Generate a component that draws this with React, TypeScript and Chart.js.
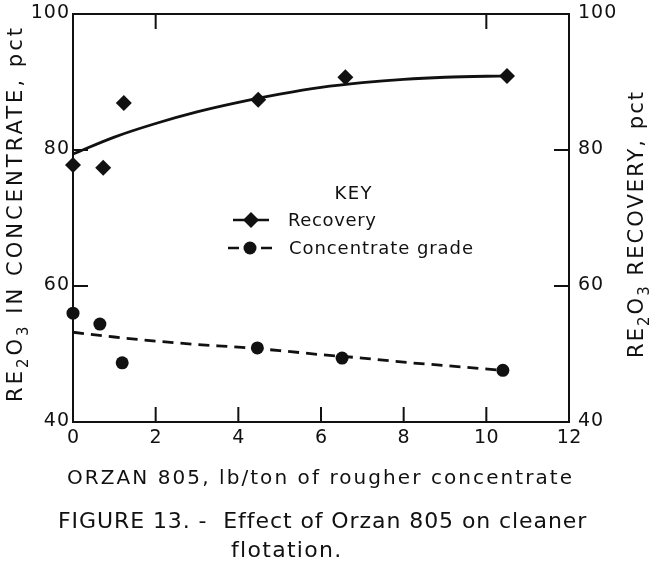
import React, { useEffect, useRef } from "react";
import { Chart, registerables } from "chart.js";

Chart.register(...registerables);

// ---- data ----
const recoveryX = [0, 0.73, 1.23, 4.48, 6.59, 10.5];
const recoveryY = [77.8, 77.4, 86.9, 87.4, 90.7, 90.9];
const gradeX = [0, 0.65, 1.19, 4.46, 6.51, 10.4];
const gradeY = [56.0, 54.4, 48.7, 50.9, 49.4, 47.6];
const recoveryCurveX = [0, 1, 2, 3, 4, 5, 6, 7, 8, 9, 10.5];
const recoveryCurveY = [79.4, 81.9, 83.9, 85.6, 87.0, 88.2, 89.2, 89.9, 90.4, 90.7, 90.9];
const gradeCurveX = [0, 1, 2, 3, 4, 5, 6, 7, 8, 9, 10.4];
const gradeCurveY = [53.2, 52.5, 51.9, 51.4, 51.0, 50.5, 49.9, 49.4, 48.8, 48.3, 47.6];
const xTickLabels = [0, 2, 4, 6, 8, 10, 12];
const yTickLabels = [40, 60, 80, 100];
const innerXTicksBottom = [2, 4, 6, 8, 10];
const innerXTicksTop = [2, 10];
const innerYTicks = [60, 80];

const xTitle = "ORZAN 805, lb/ton of rougher concentrate";
const caption1 = "FIGURE 13. -  Effect of Orzan 805 on cleaner";
const caption2 = "flotation.";
const leftTitleRuns = [
  { t: "RE" }, { t: "2", sub: true }, { t: "O" }, { t: "3", sub: true }, { t: " IN CONCENTRATE, pct" },
];
const rightTitleRuns = [
  { t: "RE" }, { t: "2", sub: true }, { t: "O" }, { t: "3", sub: true }, { t: " RECOVERY, pct" },
];
const legendTitle = "KEY";
const legendRecovery = "Recovery";
const legendGrade = "Concentrate grade";

const FAM = '"DejaVu Sans", sans-serif';
const INK = "#111";

function fitSpacing(ctx: CanvasRenderingContext2D, text: string, font: string, target: number) {
  ctx.font = font;
  ctx.letterSpacing = "0px";
  const w = ctx.measureText(text).width;
  return (target - w) / Math.max(1, text.length - 1);
}

function drawSpaced(
  ctx: CanvasRenderingContext2D, text: string, x: number, y: number, font: string, sp: number, align: string
) {
  ctx.font = font;
  ctx.letterSpacing = "0px";
  const w = ctx.measureText(text).width + sp * (text.length - 1);
  let sx = x;
  if (align === "center") sx = x - w / 2;
  else if (align === "right") sx = x - w;
  ctx.letterSpacing = sp + "px";
  ctx.textAlign = "left";
  ctx.fillText(text, sx, y);
  ctx.letterSpacing = "0px";
}

function drawRuns(ctx: CanvasRenderingContext2D, runs: any[], size: number, target: number) {
  const main = `${size}px ${FAM}`;
  const sub = `${Math.round(size * 0.7)}px ${FAM}`;
  ctx.letterSpacing = "0px";
  let sum = 0;
  let n = 0;
  for (const r of runs) {
    ctx.font = r.sub ? sub : main;
    sum += ctx.measureText(r.t).width;
    n += r.t.length;
  }
  const sp = (target - sum) / (n - 1);
  let x = -target / 2;
  ctx.textAlign = "left";
  ctx.textBaseline = "alphabetic";
  for (const r of runs) {
    ctx.font = r.sub ? sub : main;
    ctx.letterSpacing = sp + "px";
    ctx.fillText(r.t, x, r.sub ? size * 0.28 : 0);
    ctx.letterSpacing = "0px";
    x += ctx.measureText(r.t).width + sp * r.t.length;
  }
}

function diamond(ctx: CanvasRenderingContext2D, x: number, y: number, r: number) {
  ctx.beginPath();
  ctx.moveTo(x, y - r);
  ctx.lineTo(x + r, y);
  ctx.lineTo(x, y + r);
  ctx.lineTo(x - r, y);
  ctx.closePath();
  ctx.fill();
}

const decorPlugin = {
  id: "decor",
  beforeDraw(chart: any) {
    const ctx = chart.ctx;
    ctx.save();
    ctx.fillStyle = "#fff";
    ctx.fillRect(0, 0, chart.width, chart.height);
    ctx.restore();
  },
  afterDraw(chart: any) {
    const ctx: CanvasRenderingContext2D = chart.ctx;
    const { left, right, top, bottom } = chart.chartArea;
    const xs = chart.scales.x;
    const ys = chart.scales.y;
    const ys2 = chart.scales.y2;
    ctx.save();
    ctx.strokeStyle = INK;
    ctx.fillStyle = INK;
    ctx.lineWidth = 2;
    ctx.setLineDash([]);
    // frame
    ctx.strokeRect(left, top, right - left, bottom - top);
    // inner ticks
    const TL = 15;
    ctx.beginPath();
    for (const v of innerXTicksBottom) {
      const px = xs.getPixelForValue(v);
      ctx.moveTo(px, bottom);
      ctx.lineTo(px, bottom - TL);
    }
    for (const v of innerXTicksTop) {
      const px = xs.getPixelForValue(v);
      ctx.moveTo(px, top);
      ctx.lineTo(px, top + TL);
    }
    for (const v of innerYTicks) {
      const py = ys.getPixelForValue(v);
      ctx.moveTo(left, py);
      ctx.lineTo(left + TL, py);
      const py2 = ys2.getPixelForValue(v);
      ctx.moveTo(right, py2);
      ctx.lineTo(right - TL, py2);
    }
    ctx.stroke();

    // tick labels
    const tf = `19px ${FAM}`;
    ctx.textBaseline = "middle";
    for (const v of xTickLabels) {
      drawSpaced(ctx, String(v), xs.getPixelForValue(v), bottom + 16, tf, 0.5, "center");
    }
    for (const v of yTickLabels) {
      drawSpaced(ctx, String(v), left - 4, ys.getPixelForValue(v) - 1, tf, 1, "right");
      drawSpaced(ctx, String(v), right + 9, ys2.getPixelForValue(v) - 1, tf, 1, "left");
    }

    // x title & caption
    ctx.textBaseline = "alphabetic";
    const xf = `20px ${FAM}`;
    drawSpaced(ctx, xTitle, 67, 484, xf, fitSpacing(ctx, xTitle, xf, 505), "left");
    const cf = `22px ${FAM}`;
    drawSpaced(ctx, caption1, 58, 528, cf, fitSpacing(ctx, caption1, cf, 528), "left");
    drawSpaced(ctx, caption2, 231, 557, cf, 1.3, "left");

    // y titles
    ctx.save();
    ctx.translate(22, 215);
    ctx.rotate(-Math.PI / 2);
    drawRuns(ctx, leftTitleRuns, 21, 374);
    ctx.restore();
    ctx.save();
    ctx.translate(643, 225);
    ctx.rotate(-Math.PI / 2);
    drawRuns(ctx, rightTitleRuns, 21, 266);
    ctx.restore();

    // legend
    const lf = `18px ${FAM}`;
    drawSpaced(ctx, legendTitle, 353, 199, lf, 1.5, "center");
    ctx.lineWidth = 2.5;
    ctx.beginPath();
    ctx.moveTo(233, 220);
    ctx.lineTo(269, 220);
    ctx.stroke();
    diamond(ctx, 251, 220, 8);
    drawSpaced(ctx, legendRecovery, 288, 226, lf, fitSpacing(ctx, legendRecovery, lf, 88), "left");
    ctx.beginPath();
    ctx.moveTo(228, 248);
    ctx.lineTo(239, 248);
    ctx.moveTo(261, 248);
    ctx.lineTo(272, 248);
    ctx.stroke();
    ctx.beginPath();
    ctx.arc(250, 248, 6.5, 0, Math.PI * 2);
    ctx.fill();
    drawSpaced(ctx, legendGrade, 289, 254, lf, fitSpacing(ctx, legendGrade, lf, 184), "left");
    ctx.restore();
  },
};

export default function App() {
  const ref = useRef<HTMLCanvasElement>(null);
  useEffect(() => {
    document.body.style.margin = "0";
    const pts = (xa: number[], ya: number[]) => xa.map((x, i) => ({ x, y: ya[i] }));
    const chart = new Chart(ref.current as HTMLCanvasElement, {
      type: "line",
      data: {
        datasets: [
          {
            label: "Recovery",
            data: pts(recoveryX, recoveryY),
            yAxisID: "y2",
            showLine: false,
            pointStyle: "rectRot",
            pointRadius: 8,
            pointBackgroundColor: INK,
            pointBorderColor: INK,
            pointBorderWidth: 0,
            clip: false,
          } as any,
          {
            label: "Concentrate grade",
            data: pts(gradeX, gradeY),
            yAxisID: "y",
            showLine: false,
            pointStyle: "circle",
            pointRadius: 6.5,
            pointBackgroundColor: INK,
            pointBorderColor: INK,
            pointBorderWidth: 0,
            clip: false,
          } as any,
          {
            label: "Recovery curve",
            data: pts(recoveryCurveX, recoveryCurveY),
            yAxisID: "y2",
            borderColor: INK,
            borderWidth: 2.8,
            pointRadius: 0,
            cubicInterpolationMode: "monotone",
            fill: false,
          },
          {
            label: "Grade curve",
            data: pts(gradeCurveX, gradeCurveY),
            yAxisID: "y",
            borderColor: INK,
            borderWidth: 2.8,
            borderDash: [11, 7],
            pointRadius: 0,
            cubicInterpolationMode: "monotone",
            fill: false,
          },
        ],
      },
      options: {
        animation: false,
        responsive: false,
        devicePixelRatio: 1,
        layout: { padding: { left: 0, right: 0, top: 14, bottom: 0 } },
        plugins: { legend: { display: false }, tooltip: { enabled: false }, title: { display: false } },
        events: [],
        scales: {
          x: {
            type: "linear",
            min: 0,
            max: 12,
            ticks: { display: false, stepSize: 2 },
            grid: { display: false },
            border: { display: false },
            afterFit: (s: any) => { s.height = 143; },
          },
          y: {
            type: "linear",
            position: "left",
            min: 40,
            max: 100,
            ticks: { display: false, stepSize: 20 },
            grid: { display: false },
            border: { display: false },
            afterFit: (s: any) => { s.width = 73; },
          },
          y2: {
            type: "linear",
            position: "right",
            min: 40,
            max: 100,
            ticks: { display: false, stepSize: 20 },
            grid: { display: false },
            border: { display: false },
            afterFit: (s: any) => { s.width = 82; },
          },
        },
      },
      plugins: [decorPlugin],
    });
    return () => chart.destroy();
  }, []);
  return (
    <div style={{ width: 651, height: 565, background: "#fff" }}>
      <canvas ref={ref} width={651} height={565} style={{ display: "block" }} />
    </div>
  );
}
